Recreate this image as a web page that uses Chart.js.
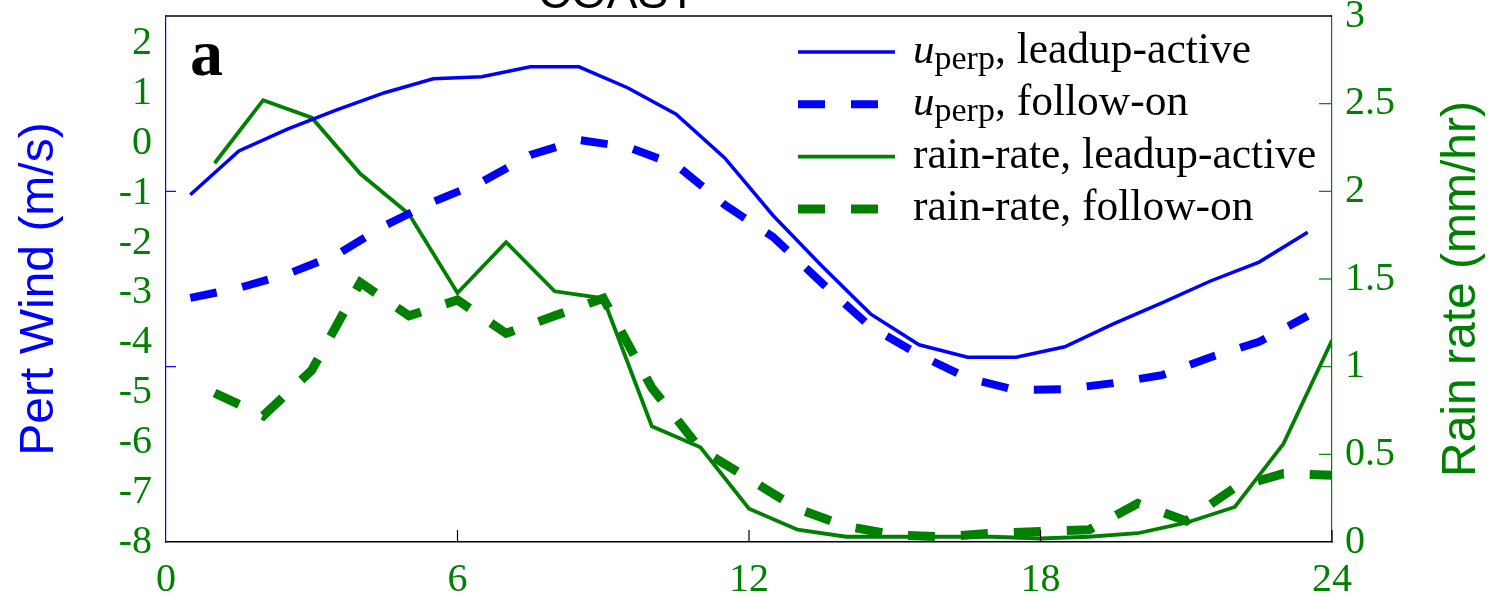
<!DOCTYPE html>
<html>
<head>
<meta charset="utf-8">
<script src="https://cdn.jsdelivr.net/npm/chart.js@4"></script>
<style>
html, body { margin: 0; padding: 0; background: #fff; }
#wrap { width: 1498px; height: 606px; position: relative; }
</style>
</head>
<body>
<div id="wrap"><canvas id="myChart"></canvas></div>
<script>
//Heures (axe x)
const windHours = [0.5, 1.5, 2.5, 3.5, 4.5, 5.5, 6.5, 7.5, 8.5, 9.5, 10.5, 11.5,
    12.5, 13.5, 14.5, 15.5, 16.5, 17.5, 18.5, 19.5, 20.5, 21.5, 22.5, 23.5];
const rainHours = [1, 2, 3, 4, 5, 6, 7, 8, 9, 10, 11, 12,
    13, 14, 15, 16, 17, 18, 19, 20, 21, 22, 23, 24];

//Vent perturbé (m/s)
const windLeadup = [-1.03, -0.15, 0.29, 0.67, 1.02, 1.30, 1.34, 1.54, 1.54, 1.12, 0.59, -0.29,
    -1.45, -2.46, -3.42, -4.04, -4.29, -4.29, -4.08, -3.62, -3.20, -2.76, -2.38, -1.78];
const windFollow = [-3.10, -2.90, -2.62, -2.24, -1.65, -1.17, -0.77, -0.23, 0.07, -0.07, -0.43, -1.23,
    -1.88, -2.80, -3.68, -4.24, -4.71, -4.95, -4.93, -4.81, -4.65, -4.29, -3.98, -3.46];

//Taux de pluie (mm/hr)
const rainLeadup = [2.16, 2.52, 2.42, 2.10, 1.87, 1.42, 1.71, 1.43, 1.39, 0.66, 0.54, 0.19,
    0.07, 0.03, 0.03, 0.03, 0.03, 0.02, 0.03, 0.05, 0.11, 0.20, 0.56, 1.15];
const rainFollow = [0.85, 0.72, 0.98, 1.48, 1.29, 1.38, 1.19, 1.29, 1.39, 0.88, 0.53, 0.36,
    0.19, 0.09, 0.04, 0.03, 0.05, 0.06, 0.07, 0.22, 0.12, 0.31, 0.39, 0.38];

//Graduations
const hourTicks = [0, 6, 12, 18, 24];
const windTicks = [-8, -7, -6, -5, -4, -3, -2, -1, 0, 1, 2];
const rainTicks = [0, 0.5, 1, 1.5, 2, 2.5, 3];

const legendLabels = ['u_perp, leadup-active', 'u_perp, follow-on',
    'rain-rate, leadup-active', 'rain-rate, follow-on'];
const titleText = 'COAST';
const panelLetter = 'a';
const windTitle = 'Pert Wind (m/s)';
const rainTitle = 'Rain rate (mm/hr)';

const BLUE = '#0000ff';
const GREEN = '#008000';
const SERIF = '"Liberation Serif", "DejaVu Serif", serif';
const SANS = '"Liberation Sans", Arial, sans-serif';

const toPoints = (xs, ys) => xs.map((x, i) => ({x: x, y: ys[i]}));

//Données
const data = {
    datasets: [{
        label: legendLabels[0],
        data: toPoints(windHours, windLeadup),
        yAxisID: 'y',
        borderColor: BLUE,
        borderWidth: 3.5
    }, {
        label: legendLabels[1],
        data: toPoints(windHours, windFollow),
        yAxisID: 'y',
        borderColor: BLUE,
        borderWidth: 8,
        borderDash: [27, 26]
    }, {
        label: legendLabels[2],
        data: toPoints(rainHours, rainLeadup),
        yAxisID: 'y1',
        borderColor: GREEN,
        borderWidth: 3.8
    }, {
        label: legendLabels[3],
        data: toPoints(rainHours, rainFollow),
        yAxisID: 'y1',
        borderColor: GREEN,
        borderWidth: 9,
        borderDash: [27, 26]
    }]
};

const noPad = s => { s.paddingTop = 0; s.paddingBottom = 0; s.paddingLeft = 0; s.paddingRight = 0; };

//Cadre, graduations internes, légende, titres
const decor = {
    id: 'decor',
    beforeDraw(chart) {
        const ctx = chart.ctx;
        ctx.save();
        ctx.fillStyle = '#fff';
        ctx.fillRect(0, 0, chart.width, chart.height);
        ctx.restore();
    },
    afterDraw(chart) {
        const {ctx, chartArea: a, scales} = chart;
        ctx.save();

        //bord du haut
        ctx.strokeStyle = '#000';
        ctx.lineWidth = 1.5;
        ctx.beginPath();
        ctx.moveTo(a.left, a.top);
        ctx.lineTo(a.right, a.top);
        ctx.stroke();

        //graduations x vers l'intérieur
        ctx.lineWidth = 1.2;
        hourTicks.slice(1).forEach(v => {
            const x = scales.x.getPixelForValue(v);
            ctx.beginPath();
            ctx.moveTo(x, a.bottom);
            ctx.lineTo(x, a.bottom - 12);
            ctx.stroke();
        });

        //graduations de droite
        ctx.strokeStyle = GREEN;
        rainTicks.slice(1, -1).forEach(v => {
            const y = scales.y1.getPixelForValue(v);
            ctx.beginPath();
            ctx.moveTo(a.right, y);
            ctx.lineTo(a.right - 13, y);
            ctx.stroke();
        });
        ctx.strokeStyle = BLUE;
        [1, 2].forEach(v => {
            const y = scales.y1.getPixelForValue(v);
            ctx.beginPath();
            ctx.moveTo(a.left, y);
            ctx.lineTo(a.left + 10, y);
            ctx.stroke();
        });

        //légende
        const lx = a.right - 534;
        chart.data.datasets.forEach((ds, i) => {
            const y = a.top + 36 + i * 52.3;
            ctx.strokeStyle = ds.borderColor;
            ctx.lineWidth = ds.borderWidth;
            ctx.setLineDash(ds.borderDash || []);
            ctx.beginPath();
            ctx.moveTo(lx, y);
            ctx.lineTo(lx + 97, y);
            ctx.stroke();
            ctx.setLineDash([]);

            ctx.fillStyle = '#000';
            ctx.textBaseline = 'alphabetic';
            ctx.textAlign = 'left';
            let tx = lx + 115;
            let txt = ds.label;
            if (txt.startsWith('u_perp')) {
                ctx.font = 'italic 43px ' + SERIF;
                ctx.fillText('u', tx, y + 11);
                tx += ctx.measureText('u').width;
                ctx.font = '34px ' + SERIF;
                ctx.fillText('perp', tx, y + 17);
                tx += ctx.measureText('perp').width;
                txt = txt.slice(6);
            }
            ctx.font = '43.5px ' + SERIF;
            ctx.fillText(txt, tx, y + 11);
        });

        //lettre du panneau
        ctx.font = 'bold 66px ' + SERIF;
        ctx.fillText(panelLetter, a.left + 24, a.top + 59);

        //titre coupé en haut
        ctx.font = '46px ' + SANS;
        ctx.textAlign = 'center';
        ctx.fillText(titleText, 617, 8);

        //titres des axes
        ctx.font = '48px ' + SANS;
        ctx.textBaseline = 'middle';
        const midY = (a.top + a.bottom) / 2 + 10;

        ctx.save();
        ctx.translate(40, midY);
        ctx.rotate(-Math.PI / 2);
        ctx.fillStyle = BLUE;
        ctx.fillText(windTitle, 0, 0);
        ctx.restore();

        ctx.translate(1462, midY);
        ctx.rotate(-Math.PI / 2);
        ctx.fillStyle = GREEN;
        ctx.fillText(rainTitle, 0, 0);

        ctx.restore();
    }
};

const tickFont = {family: SERIF, size: 40, lineHeight: 0.8};

//Configuration
const config = {
    type: 'line',
    data,
    options: {
        responsive: true,
        maintainAspectRatio: false,
        animation: false,
        layout: {padding: {top: 16, left: 0, right: 0, bottom: 0}},
        elements: {
            point: {radius: 0},
            line: {tension: 0, borderCapStyle: 'butt'}
        },
        plugins: {
            legend: {display: false},
            tooltip: {enabled: false}
        },
        scales: {
            x: {
                type: 'linear',
                min: 0,
                max: 24,
                afterBuildTicks: s => { s.ticks = hourTicks.map(v => ({value: v})); },
                afterFit: s => { s.height = 64; noPad(s); },
                ticks: {color: GREEN, font: {family: SERIF, size: 40, lineHeight: 1.2}, padding: 14, maxRotation: 0, autoSkip: false},
                grid: {drawOnChartArea: false, drawTicks: false},
                border: {color: '#000', width: 1.5}
            },
            y: {
                type: 'linear',
                position: 'left',
                min: -8,
                max: 2.56,
                afterBuildTicks: s => { s.ticks = windTicks.map(v => ({value: v})); },
                afterFit: s => { s.width = 166; noPad(s); },
                ticks: {color: GREEN, font: tickFont, padding: 14, callback: v => String(v)},
                grid: {drawOnChartArea: false, drawTicks: false},
                border: {color: BLUE, width: 1.2}
            },
            y1: {
                type: 'linear',
                position: 'right',
                min: 0,
                max: 3,
                afterBuildTicks: s => { s.ticks = rainTicks.map(v => ({value: v})); },
                afterFit: s => { s.width = 166; noPad(s); },
                ticks: {color: GREEN, font: tickFont, padding: 13, callback: v => String(v)},
                grid: {drawOnChartArea: false, drawTicks: false},
                border: {color: GREEN, width: 1.2}
            }
        }
    },
    plugins: [decor]
};

//Créer le graphique
const mychart = new Chart(document.getElementById('myChart'), config);
</script>
</body>
</html>
